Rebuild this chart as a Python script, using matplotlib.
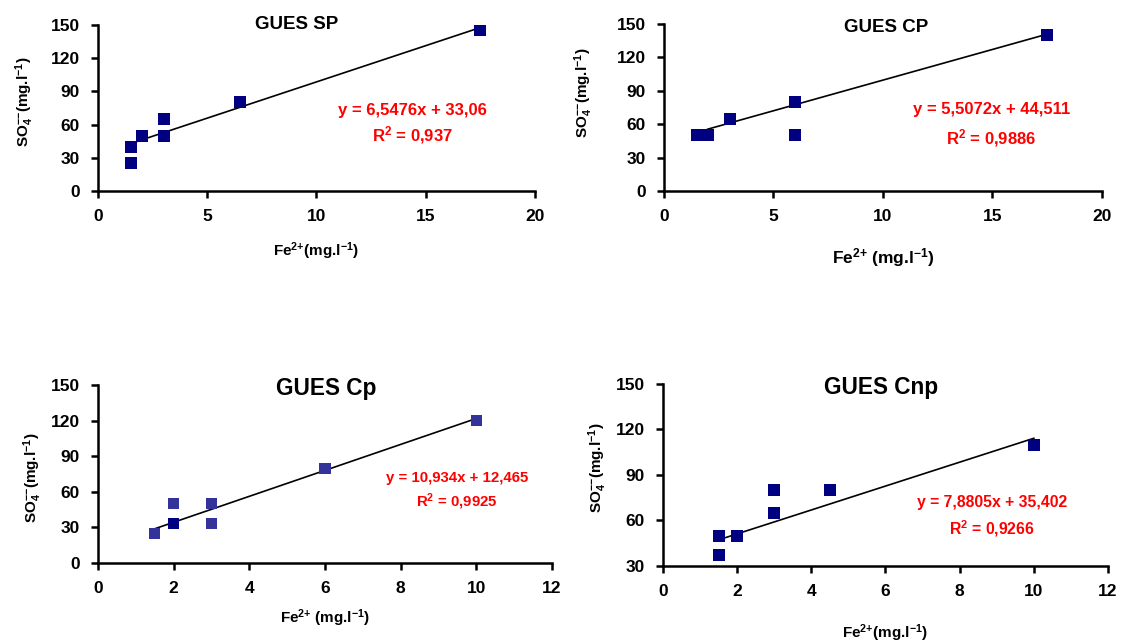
import numpy as np
import matplotlib
matplotlib.use("Agg")
import matplotlib.pyplot as plt

plt.rcParams["font.family"] = ["Liberation Sans", "DejaVu Sans"]
plt.rcParams["font.weight"] = "bold"
plt.rcParams["mathtext.fontset"] = "custom"
plt.rcParams["mathtext.rm"] = "Liberation Sans:bold"
plt.rcParams["mathtext.bf"] = "Liberation Sans:bold"
plt.rcParams["mathtext.default"] = "bf"

NAVY = "#000080"
BLUE = "#333399"

# GUES SP
sp_x = [1.5, 1.5, 2, 3, 3, 6.5, 17.5]
sp_y = [25, 40, 50, 50, 65, 80, 145]
sp_fit = (6.5476, 33.06)

# GUES CP
cp_x = [1.5, 2, 3, 6, 6, 17.5]
cp_y = [50, 50, 65, 80, 50, 140]
cp_fit = (5.5072, 44.511)

# GUES Cp
cp2_x = [1.5, 2, 2, 3, 3, 6, 10]
cp2_y = [25, 50, 33, 50, 33, 80, 120]
cp2_colors = [BLUE, BLUE, NAVY, BLUE, BLUE, BLUE, BLUE]
cp2_fit = (10.934, 12.465)

# GUES Cnp
cnp_x = [1.5, 1.5, 2, 3, 3, 4.5, 10]
cnp_y = [50, 37, 50, 80, 65, 80, 110]
cnp_fit = (7.8805, 35.402)

ylab = r"SO$_4^{{-}{-}}$(mg.l$^{{-}1}$)"

fig = plt.figure(figsize=(11.21, 6.43), dpi=100)


def panel(rect, xs, ys, colors, fit, fit_x0, xlim, xticks, ylim, yticks,
          title, tsize, tpos, eq, r2, eq_pos, eq_size, eq_ls,
          xlabel, xl_size, xl_pad, yl_pad, yl_y):
    ax = fig.add_axes(rect)
    ax.scatter(xs, ys, marker="s", s=64, c=colors, zorder=3, linewidths=0)
    a, b = fit
    lx = np.array([fit_x0, max(xs)])
    ax.plot(lx, a * lx + b, color="black", lw=1.2, zorder=2)
    ax.set_xlim(*xlim)
    ax.set_ylim(*ylim)
    ax.set_xticks(xticks)
    ax.set_yticks(yticks)
    for s in ["top", "right"]:
        ax.spines[s].set_visible(False)
    for s in ["left", "bottom"]:
        ax.spines[s].set_linewidth(1.8)
    ax.tick_params(direction="out", length=5, width=1.8, labelsize=12.5, pad=8)
    for lab in ax.get_xticklabels() + ax.get_yticklabels():
        lab.set_fontweight("bold")
    ax.text(tpos[0], tpos[1], title, transform=ax.transAxes, ha="center",
            va="center", fontsize=tsize, fontweight="bold")
    ax.text(eq_pos[0], eq_pos[1], eq + "\n" + r2, transform=ax.transAxes,
            ha="center", va="center", color="red", fontsize=eq_size,
            fontweight="bold", linespacing=eq_ls)
    ax.set_xlabel(xlabel, fontsize=xl_size, fontweight="bold", labelpad=xl_pad)
    ax.set_ylabel(ylab, fontsize=11, fontweight="bold", labelpad=yl_pad, y=yl_y)
    return ax


panel([0.0874, 0.7030, 0.3898, 0.2582], sp_x, sp_y, NAVY, sp_fit, 1.5,
      (0, 20), [0, 5, 10, 15, 20], (0, 150), [0, 30, 60, 90, 120, 150],
      "GUES SP", 13.5, (0.455, 1.0), "y = 6,5476x + 33,06", r"R$^2$ = 0,937",
      (0.72, 0.40), 12, 1.4, r"Fe$^{2{+}}$(mg.l$^{{-}1}$)", 11, 12, 11, 0.536)

panel([0.5923, 0.7030, 0.3907, 0.2597], cp_x, cp_y, NAVY, cp_fit, 2,
      (0, 20), [0, 5, 10, 15, 20], (0, 150), [0, 30, 60, 90, 120, 150],
      "GUES CP", 13.5, (0.507, 0.976), "y = 5,5072x + 44,511", r"R$^2$ = 0,9886",
      (0.747, 0.39), 12, 1.6, r"Fe$^{2{+}}$ (mg.l$^{{-}1}$)", 12.5, 16, 16, 0.59)

panel([0.0874, 0.1244, 0.405, 0.2768], cp2_x, cp2_y, cp2_colors, cp2_fit, 1.5,
      (0, 12), [0, 2, 4, 6, 8, 10, 12], (0, 150), [0, 30, 60, 90, 120, 150],
      "GUES Cp", 16.3, (0.502, 0.98), "y = 10,934x + 12,465", r"R$^2$ = 0,9925",
      (0.79, 0.40), 10.8, 1.4, r"Fe$^{2{+}}$ (mg.l$^{{-}1}$)", 11, 8, 5, 0.48)

panel([0.5914, 0.1198, 0.397, 0.2830], cnp_x, cnp_y, NAVY, cnp_fit, 1.5,
      (0, 12), [0, 2, 4, 6, 8, 10, 12], (30, 150), [30, 60, 90, 120, 150],
      "GUES Cnp", 16.3, (0.49, 0.98), "y = 7,8805x + 35,402", r"R$^2$ = 0,9266",
      (0.74, 0.27), 11.3, 1.55, r"Fe$^{2{+}}$(mg.l$^{{-}1}$)", 11, 17, 5, 0.54)

fig.savefig("out.png", dpi=100)
